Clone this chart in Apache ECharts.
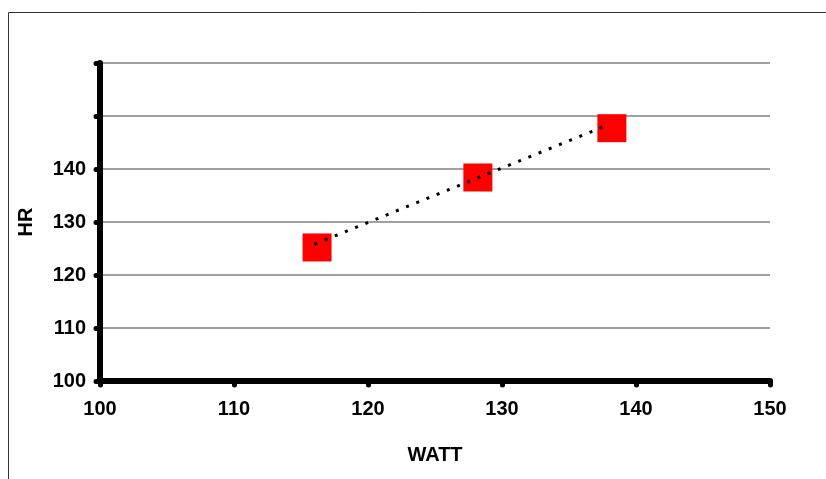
<!DOCTYPE html>
<html><head><meta charset="utf-8">
<script src="https://cdn.jsdelivr.net/npm/echarts@6/dist/echarts.min.js"></script>
<style>html,body{margin:0;padding:0;background:#fff}#c{width:826px;height:479px}</style>
</head><body><div id="c"></div>
<script>
var watt = [116.2, 128.2, 138.2];
var hr = [125.2, 138.4, 147.7];
var trendX = [116.0, 137.7];
var trendY = [125.8, 148.1];
var xTicks = [100, 110, 120, 130, 140, 150];
var yTickLabels = [100, 110, 120, 130, 140];

var pts = watt.map(function (w, i) { return [w, hr[i]]; });
var trend = trendX.map(function (x, i) { return [x, trendY[i]]; });
var font = 'Liberation Sans, Arial, sans-serif';
var chart = echarts.init(document.getElementById('c'));
chart.setOption({
  animation: false,
  backgroundColor: '#fff',
  graphic: [{ type: 'rect', shape: { x: 8.5, y: 12.5, width: 900, height: 600 }, style: { fill: null, stroke: '#333', lineWidth: 1 }, silent: true }],
  grid: { left: 100, right: 56, top: 63, bottom: 98 },
  xAxis: {
    type: 'value', min: xTicks[0], max: xTicks[xTicks.length - 1], interval: 10,
    name: 'WATT', nameLocation: 'middle', nameGap: 64,
    nameTextStyle: { fontFamily: font, fontWeight: 'bold', fontSize: 20, color: '#000' },
    axisLine: { show: true, lineStyle: { color: '#000', width: 6 } },
    axisTick: { show: true, length: 4, lineStyle: { color: '#000', width: 5, cap: 'round' } },
    axisLabel: { margin: 18, fontFamily: font, fontWeight: 'bold', fontSize: 20, color: '#000',
      formatter: function (v) { return xTicks.indexOf(v) >= 0 ? String(v) : ''; } },
    splitLine: { show: false }
  },
  yAxis: {
    type: 'value', min: 100, max: 160, interval: 10,
    name: 'HR', nameLocation: 'middle', nameGap: 64, nameRotate: 90,
    nameTextStyle: { fontFamily: font, fontWeight: 'bold', fontSize: 20, color: '#000' },
    axisLine: { show: true, lineStyle: { color: '#000', width: 6, cap: 'round' } },
    axisTick: { show: true, length: 4, lineStyle: { color: '#000', width: 5, cap: 'round' } },
    axisLabel: { margin: 14, fontFamily: font, fontWeight: 'bold', fontSize: 20, color: '#000',
      formatter: function (v) { return yTickLabels.indexOf(v) >= 0 ? String(v) : ''; } },
    splitLine: { show: true, lineStyle: { color: '#808080', width: 1.5 } }
  },
  series: [
    { type: 'scatter', data: pts, symbol: 'rect', symbolSize: [29, 28], itemStyle: { color: '#ff0000', opacity: 1 }, z: 2 },
    { type: 'line', data: trend, showSymbol: false, symbol: 'none', z: 3,
      lineStyle: { color: '#000', width: 3, type: [3, 8] } }
  ]
});
</script></body></html>
